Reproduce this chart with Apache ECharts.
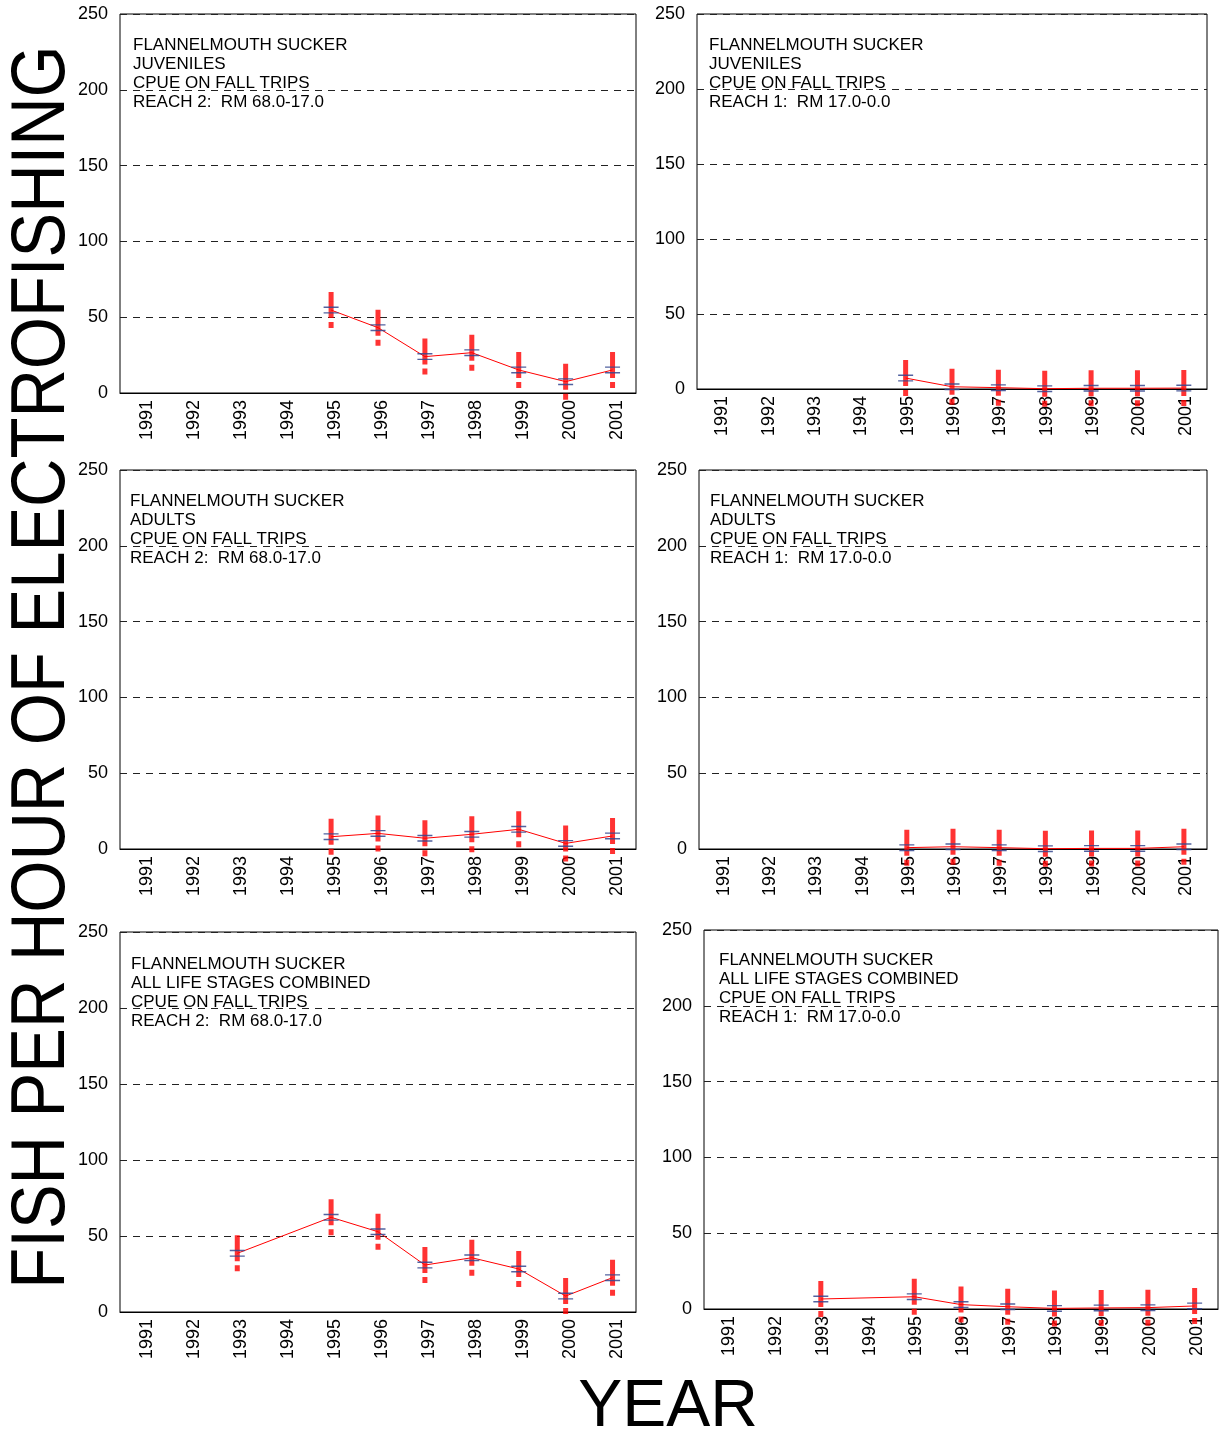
<!DOCTYPE html>
<html>
<head>
<meta charset="utf-8">
<script src="https://cdn.jsdelivr.net/npm/echarts@6/dist/echarts.min.js"></script>
<style>
html,body{margin:0;padding:0;background:#fff;}
#chart{width:1219px;height:1435px;}
</style>
</head>
<body>
<div id="chart"></div>
<script>
const years = ['1991','1992','1993','1994','1995','1996','1997','1998','1999','2000','2001'];
const yTicks = [0, 50, 100, 150, 200, 250];
const juvReach2 = [null,null,null,null,54.7,43.1,24.0,26.6,15.2,7.5,15.2];
const juvReach1 = [null,null,null,null,7.3,1.5,0.9,0.2,0.5,0.5,0.6];
const adultReach2 = [null,null,null,null,8.1,10.3,7.1,9.7,13.0,3.7,8.6];
const adultReach1 = [null,null,null,null,0.9,1.5,0.9,0.2,0.4,0.4,1.5];
const allReach2 = [null,null,38.6,null,62.3,52.8,30.9,35.7,28.3,10.5,22.6];
const allReach1 = [null,null,6.6,null,8.1,2.9,1.5,0.4,0.7,0.9,2.0];
const panelTexts = [
  'FLANNELMOUTH SUCKER\nJUVENILES\nCPUE ON FALL TRIPS\nREACH 2:  RM 68.0-17.0',
  'FLANNELMOUTH SUCKER\nJUVENILES\nCPUE ON FALL TRIPS\nREACH 1:  RM 17.0-0.0',
  'FLANNELMOUTH SUCKER\nADULTS\nCPUE ON FALL TRIPS\nREACH 2:  RM 68.0-17.0',
  'FLANNELMOUTH SUCKER\nADULTS\nCPUE ON FALL TRIPS\nREACH 1:  RM 17.0-0.0',
  'FLANNELMOUTH SUCKER\nALL LIFE STAGES COMBINED\nCPUE ON FALL TRIPS\nREACH 2:  RM 68.0-17.0',
  'FLANNELMOUTH SUCKER\nALL LIFE STAGES COMBINED\nCPUE ON FALL TRIPS\nREACH 1:  RM 17.0-0.0'
];
const yTitle = 'FISH PER HOUR OF ELECTROFISHING';
const xTitle = 'YEAR';

const panelData = [juvReach2, juvReach1, adultReach2, adultReach1, allReach2, allReach1];
const grids = [
  {left:120, top:14, width:516, height:379},
  {left:697, top:14, width:510, height:375},
  {left:120, top:470, width:516, height:379},
  {left:699, top:470, width:508, height:379},
  {left:120, top:932, width:516, height:380},
  {left:704, top:930, width:514, height:379}
];
const textPos = [[133,36],[709,36],[130,492],[710,492],[131,955],[719,951]];

const FONT = '"Liberation Sans", Arial, sans-serif';
const bangPath = 'path://M0,0 L6,0 L6,26 L0,26 Z M0,30 L6,30 L6,36 L0,36 Z';
const tickPath = 'path://M0,0 L20,0 L20,2 L0,2 Z M0,8 L20,8 L20,10 L0,10 Z';

const option = {
  animation: false,
  backgroundColor: '#fff',
  grid: [], xAxis: [], yAxis: [], series: [], graphic: []
};

grids.forEach((g, i) => {
  option.grid.push(Object.assign({show:true, borderColor:'#000', borderWidth:1, backgroundColor:'transparent'}, g));
  option.xAxis.push({
    type:'category', gridIndex:i, data:years, boundaryGap:true,
    axisLine:{show:true, lineStyle:{color:'#000', width:1}},
    axisTick:{show:false},
    axisLabel:{rotate:90, fontSize:18, color:'#000', fontFamily:FONT, margin:7, interval:0,
      verticalAlign:'top', lineHeight: i % 2 === 0 ? 8 : 4}
  });
  option.yAxis.push({
    type:'value', gridIndex:i, min:yTicks[0], max:yTicks[yTicks.length-1], interval:50,
    axisLine:{show:false}, axisTick:{show:false},
    axisLabel:{fontSize:18, color:'#000', fontFamily:FONT, margin:12},
    splitLine:{show:true, lineStyle:{color:'#222', width:1, type:[7,6]}}
  });
  const d = panelData[i];
  option.series.push({
    type:'line', xAxisIndex:i, yAxisIndex:i, data:d, connectNulls:true,
    showSymbol:false, symbol:'none', lineStyle:{color:'#ff0000', width:1}, z:3
  });
  option.series.push({
    type:'scatter', xAxisIndex:i, yAxisIndex:i, data:d, symbol:bangPath,
    symbolSize:[5,36], itemStyle:{color:'#ff0000'}, z:4, silent:true
  });
  option.series.push({
    type:'scatter', xAxisIndex:i, yAxisIndex:i, data:d, symbol:tickPath,
    symbolSize:[15,7], itemStyle:{color:'#34478f', opacity:0.85}, z:5, silent:true
  });
  option.graphic.push({
    type:'text', left:textPos[i][0], top:textPos[i][1], z:10,
    style:{text:panelTexts[i], fill:'#000', font:'17px ' + FONT, lineHeight:19}
  });
});

option.graphic.push({
  type:'text', x:43, y:667, rotation:Math.PI/2, scaleY:1.12, z:10,
  style:{text:yTitle, fill:'#000', font:'67px ' + FONT, textAlign:'center', textVerticalAlign:'middle'}
});
option.graphic.push({
  type:'text', x:668, y:1408, z:10,
  style:{text:xTitle, fill:'#000', font:'66px ' + FONT, textAlign:'center', textVerticalAlign:'middle'}
});

const chart = echarts.init(document.getElementById('chart'), null, {renderer:'canvas'});
chart.setOption(option);
</script>
</body>
</html>
